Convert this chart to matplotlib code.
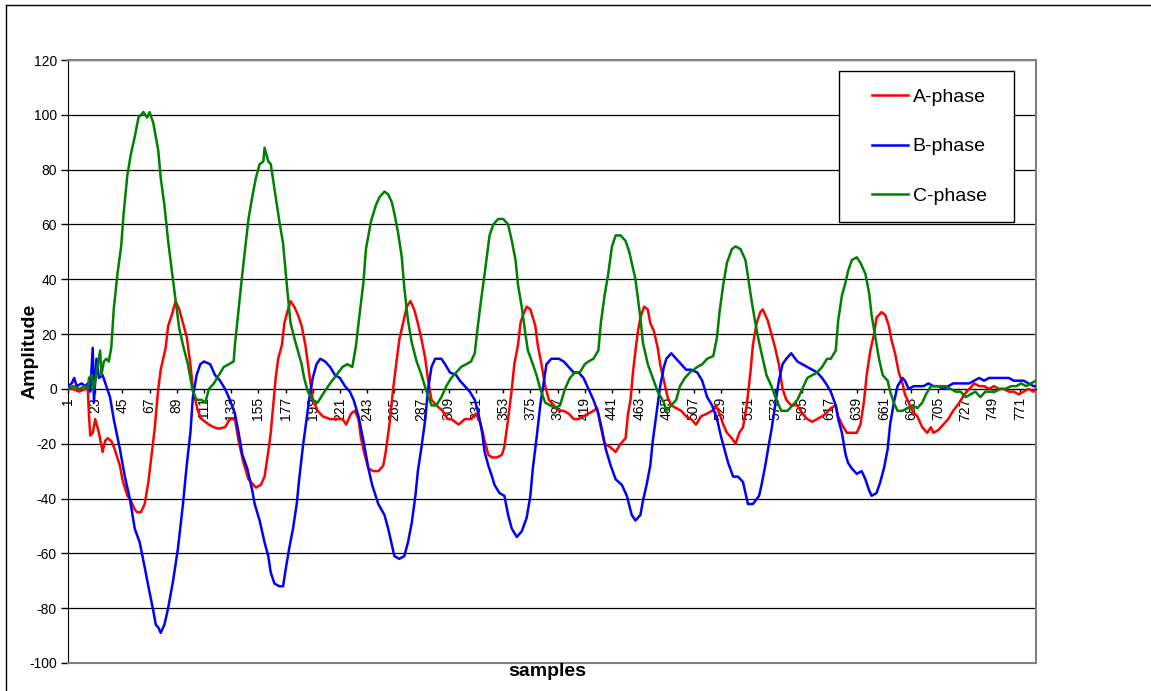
import matplotlib
matplotlib.use('Agg')
import matplotlib.pyplot as plt
from matplotlib.lines import Line2D
from matplotlib.patches import Rectangle

plt.rcParams['font.family'] = ['Liberation Sans', 'DejaVu Sans']
plt.rcParams['axes.unicode_minus'] = False

# ======================
# Data
# ======================
n_samples = 784

a_s = [1, 5, 10, 15, 17, 18, 19, 21, 23, 26, 29, 31, 33, 36, 38, 43, 45, 49, 51, 52, 55, 57, 60, 63, 66,
       71, 74, 76, 80, 82, 85, 88, 91, 94, 97, 100, 102, 106, 109, 115, 119, 123, 128, 132, 136, 139,
       143, 147, 151, 153, 157, 160, 163, 165, 167, 169, 171, 174, 176, 179, 181, 184, 187, 190, 193,
       196, 199, 203, 207, 213, 218, 223, 226, 230, 233, 236, 238, 241, 244, 248, 252, 256, 258, 261,
       264, 267, 269, 272, 275, 278, 281, 284, 287, 290, 292, 295, 299, 304, 308, 311, 317, 322, 327,
       331, 335, 338, 341, 344, 348, 352, 354, 357, 360, 362, 365, 367, 369, 372, 375, 379, 381, 384,
       387, 390, 394, 398, 402, 406, 410, 414, 418, 422, 426, 429, 432, 435, 439, 444, 448, 452, 454,
       456, 458, 460, 462, 464, 467, 470, 472, 475, 478, 480, 483, 486, 489, 493, 497, 501, 505, 509,
       513, 518, 522, 525, 528, 531, 534, 538, 541, 544, 547, 550, 553, 555, 558, 561, 563, 567, 570,
       573, 576, 579, 582, 586, 591, 595, 599, 603, 607, 611, 614, 618, 622, 624, 627, 631, 635, 639,
       642, 645, 647, 650, 653, 655, 659, 662, 665, 667, 670, 673, 676, 678, 681, 684, 688, 692, 696,
       699, 701, 705, 709, 713, 717, 722, 726, 730, 734, 738, 742, 746, 750, 754, 758, 762, 766, 770,
       774, 778, 782, 784]
a_phase = [0, 0, -1, 0, 0, -10, -17, -16, -11, -16, -23, -19, -18, -19, -21, -28, -33, -39, -40, -41,
           -44, -45, -45, -42, -34, -15, 0, 7, 15, 23, 27, 32, 29, 24, 19, 9, 0, -8, -11, -13, -14,
           -14.5, -14, -11, -11, -19, -27, -33, -35, -36, -35, -32, -23, -16, -6, 4, 11, 16, 24, 29,
           32, 30, 27, 23, 16, 6, -4, -8, -10, -11, -11, -11, -13, -9, -8, -11, -18, -24, -29, -30,
           -30, -28, -23, -13, 0, 11, 18, 24, 30, 32, 29, 24, 18, 11, 4, -4, -6, -8, -11, -11, -13,
           -11, -11, -9, -13, -19, -24, -25, -25, -24, -21, -11, 0, 9, 16, 24, 27, 30, 29, 23, 16, 9,
           1, -4, -6, -8, -8, -9, -11, -11, -10, -9, -8, -7, -14, -20, -21, -23, -20, -18, -9, -4, 6,
           14, 21, 26, 30, 29, 24, 21, 15, 9, 3, -3, -6, -7, -8, -10, -11, -13, -10, -9, -8, -6, -9,
           -13, -16, -18, -20, -16, -14, -6, 6, 16, 24, 28, 29, 25, 20, 15, 9, 0, -4, -6, -6, -9, -11,
           -12, -11, -10, -9, -7, -6, -10, -13, -16, -16, -16, -13, -4, 5, 14, 20, 26, 28, 27, 23, 18,
           13, 6, 2, -2, -5, -8, -10, -14, -16, -14, -16, -15, -13, -11, -8, -5, -2, 0, 2, 1, 1, 0, 1,
           0, 0, -1, -1, -2, -1, 0, -1, 0]

b_s = [1, 4, 6, 8, 12, 15, 17, 19, 21, 22, 24, 26, 29, 32, 35, 38, 43, 47, 51, 55, 59, 63, 66, 70, 72,
       74, 76, 79, 82, 86, 90, 94, 97, 100, 102, 105, 108, 111, 116, 120, 124, 128, 132, 136, 139, 142,
       146, 150, 152, 156, 160, 163, 165, 168, 172, 175, 177, 180, 183, 186, 188, 191, 194, 196, 199,
       202, 205, 209, 213, 217, 221, 225, 229, 232, 236, 240, 244, 247, 252, 257, 260, 263, 265, 269,
       273, 276, 279, 282, 284, 287, 290, 292, 295, 298, 303, 306, 310, 315, 318, 322, 326, 330, 333,
       336, 338, 341, 344, 346, 350, 354, 357, 360, 364, 368, 372, 375, 377, 380, 383, 386, 388, 392,
       398, 402, 406, 410, 414, 418, 422, 426, 430, 433, 436, 440, 444, 449, 453, 457, 460, 464, 466,
       469, 472, 474, 477, 480, 483, 485, 489, 493, 497, 501, 505, 510, 514, 518, 522, 526, 529, 532,
       535, 539, 543, 547, 551, 555, 560, 562, 565, 568, 570, 573, 576, 579, 582, 586, 591, 595, 599,
       603, 607, 611, 614, 618, 622, 624, 627, 630, 632, 635, 639, 643, 646, 649, 651, 655, 658, 661,
       664, 666, 669, 672, 676, 678, 681, 685, 689, 693, 697, 701, 705, 709, 713, 717, 722, 726, 730,
       734, 738, 742, 746, 750, 754, 758, 762, 766, 770, 774, 778, 782, 784]
b_phase = [1, 2, 4, 1, 2, 1, 2, -1, 15, -5, 11, 4, 5, 1, -3, -11, -22, -32, -40, -51, -56, -65, -72,
           -81, -86, -87, -89, -86, -80, -70, -58, -42, -28, -16, -3, 5, 9, 10, 9, 5, 3, 0, -4, -9,
           -16, -24, -29, -37, -42, -48, -56, -61, -67, -71, -72, -72, -66, -58, -51, -42, -33, -21,
           -11, -4, 4, 9, 11, 10, 8, 5, 4, 1, -1, -4, -10, -19, -29, -35, -42, -46, -51, -57, -61,
           -62, -61, -56, -49, -39, -30, -21, -11, -1, 8, 11, 11, 9, 6, 5, 3, 1, -1, -4, -9, -16, -23,
           -28, -32, -35, -38, -39, -46, -51, -54, -52, -47, -39, -29, -18, -6, 3, 9, 11, 11, 10, 8, 6,
           6, 4, 0, -4, -9, -15, -22, -28, -33, -35, -39, -46, -48, -46, -41, -35, -28, -19, -9, 1, 8,
           11, 13, 11, 9, 7, 7, 6, 3, -3, -6, -11, -17, -22, -27, -32, -32, -34, -42, -42, -39, -35,
           -28, -20, -15, -6, 3, 9, 11, 13, 10, 9, 8, 7, 6, 4, 2, -1, -6, -11, -16, -24, -27, -29,
           -31, -30, -33, -37, -39, -38, -34, -29, -22, -13, -5, 1, 4, 3, 0, 1, 1, 1, 2, 1, 1, 0, 1,
           2, 2, 2, 2, 3, 4, 3, 4, 4, 4, 4, 4, 3, 3, 3, 2, 1, 1]

c_s = [1, 5, 10, 15, 17, 18, 20, 22, 24, 27, 28, 30, 32, 34, 36, 38, 41, 44, 46, 49, 52, 55, 58, 62, 65,
       67, 70, 74, 76, 79, 82, 85, 89, 91, 94, 98, 102, 105, 109, 112, 115, 119, 123, 127, 131, 135,
       136, 139, 142, 145, 147, 150, 153, 156, 159, 160, 163, 165, 168, 172, 175, 178, 181, 185, 190,
       192, 195, 199, 203, 207, 213, 218, 223, 227, 231, 234, 236, 240, 242, 246, 250, 253, 257, 260,
       263, 265, 268, 271, 273, 276, 279, 283, 287, 291, 295, 299, 303, 307, 311, 315, 319, 323, 327,
       330, 332, 335, 338, 340, 342, 345, 349, 353, 357, 360, 363, 365, 368, 371, 373, 377, 380, 383,
       387, 391, 395, 399, 403, 407, 411, 415, 419, 422, 426, 430, 432, 435, 438, 441, 444, 448, 452,
       455, 457, 460, 462, 464, 466, 470, 474, 478, 483, 485, 489, 493, 496, 500, 504, 510, 514, 518,
       523, 526, 528, 531, 534, 538, 541, 545, 549, 551, 554, 557, 560, 564, 566, 570, 574, 578, 583,
       587, 591, 595, 599, 603, 607, 611, 615, 618, 622, 624, 627, 630, 632, 635, 639, 642, 646, 649,
       651, 654, 657, 660, 664, 666, 669, 672, 676, 680, 684, 688, 692, 695, 699, 703, 707, 711, 715,
       719, 723, 727, 731, 735, 739, 743, 747, 751, 755, 759, 764, 768, 772, 776, 780, 784]
c_phase = [0, 1, 0, 1, 0, 4, 5, 0, 6, 14, 5, 10, 11, 10, 15, 29, 42, 52, 64, 78, 86, 92, 99, 101, 99,
           101, 97, 87, 77, 67, 54, 43, 29, 22, 16, 9, -1, -4, -4, -5, 0, 2, 5, 8, 9, 10, 16, 29, 42,
           54, 62, 70, 77, 82, 83, 88, 83, 82, 73, 61, 53, 38, 24, 17, 9, 4, -1, -4, -5, -2, 2, 5, 8,
           9, 8, 16, 24, 39, 51, 61, 67, 70, 72, 71, 68, 64, 57, 48, 37, 25, 17, 10, 5, -1, -6, -6, -3,
           1, 4, 6, 8, 9, 10, 13, 21, 32, 42, 49, 56, 60, 62, 62, 60, 54, 47, 38, 30, 20, 14, 9, 5, 0,
           -5, -6, -7, -6, 0, 4, 6, 6, 9, 10, 11, 14, 24, 34, 42, 52, 56, 56, 54, 50, 46, 40, 33, 26,
           17, 9, 4, -1, -5, -8, -6, -4, 1, 4, 6, 8, 9, 11, 12, 19, 28, 38, 46, 51, 52, 51, 47, 41, 32,
           24, 17, 9, 5, 1, -4, -8, -8, -6, -4, 0, 4, 5, 6, 8, 11, 11, 14, 25, 34, 39, 43, 47, 48, 46,
           42, 35, 27, 19, 11, 5, 3, -1, -5, -8, -8, -7, -6, -7, -5, -2, 1, 1, 1, 1, 0, -1, -1, -3, -2,
           -1, -3, -1, -1, -1, 0, 0, 1, 1, 2, 1, 2, 3]

series_names = ['A-phase', 'B-phase', 'C-phase']
series_colors = ['#FF0000', '#0000FF', '#008000']

x_ticks = list(range(1, n_samples + 1, 22))
y_ticks = list(range(-100, 121, 20))

# =====
# Plot
# =====
W, H = 1151, 691
fig = plt.figure(figsize=(W / 100, H / 100), dpi=100)
ax = fig.add_axes([68 / W, 1 - 663 / H, (1036 - 68) / W, (663 - 60) / H])

handles = []
for xs, ys, name, col in zip([a_s, b_s, c_s], [a_phase, b_phase, c_phase], series_names, series_colors):
    ln, = ax.plot(xs, ys, color=col, lw=1.8, label=name, zorder=3)
    handles.append(ln)

# axis crosses at zero (done before tick setup, set_position resets ticks)
ax.spines['bottom'].set_position(('data', 0))
ax.spines['bottom'].set_color('black')
ax.spines['left'].set_color('black')
ax.spines['top'].set_color('#808080')
ax.spines['right'].set_color('#808080')
for side in ['top', 'right']:
    ax.spines[side].set_linewidth(1.5)
ax.axhline(-100, color='#808080', lw=1.5, zorder=4, clip_on=False)

ax.set_xlim(1, n_samples)
ax.set_ylim(-100, 120)
ax.set_yticks(y_ticks)
ax.set_yticklabels([str(v) for v in y_ticks])
ax.set_xticks(x_ticks)
ax.set_xticklabels([str(v) for v in x_ticks])
ax.tick_params(axis='y', direction='out', length=5, width=1, pad=3, labelsize=10)
ax.tick_params(axis='x', direction='out', length=3, width=1, pad=3, labelsize=10,
               labelrotation=90)

ax.grid(axis='y', color='black', lw=0.9)
ax.set_axisbelow(True)

fig.text(30 / W, 1 - 351 / H, 'Amplitude', rotation=90, ha='center', va='center',
         fontsize=14, fontweight='bold')
fig.text(547 / W, 1 - 671 / H, 'samples', ha='center', va='center',
         fontsize=14, fontweight='bold')

# legend with an Excel-like box
fig.add_artist(Rectangle((839 / W, 1 - 222 / H), (1014 - 839) / W, (222 - 71) / H,
                         transform=fig.transFigure, facecolor='white', edgecolor='black',
                         lw=1, zorder=5))
leg = fig.legend(handles=handles, loc='upper left', bbox_to_anchor=(872 / W, 1 - 88 / H),
                 frameon=False, fontsize=14, handlelength=1.85, handletextpad=0.25,
                 labelspacing=1.65, borderpad=0, borderaxespad=0)
leg.set_zorder(6)

# chart area border (left and top edges visible)
fig.add_artist(Line2D([6 / W, 6 / W], [0, 1 - 5 / H], transform=fig.transFigure, color='black', lw=1))
fig.add_artist(Line2D([6 / W, 1], [1 - 5 / H, 1 - 5 / H], transform=fig.transFigure, color='black', lw=1))

fig.savefig('out.png', dpi=100)
